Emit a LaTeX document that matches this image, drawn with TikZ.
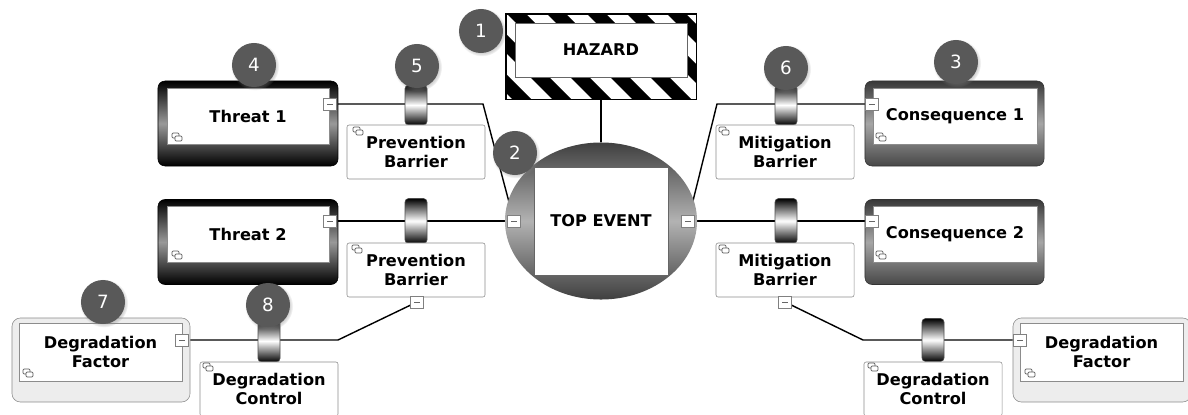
\documentclass[tikz,border=0pt]{standalone}
\usepackage{fontspec}
\setmainfont{DejaVu Sans}
\usetikzlibrary{shapes.geometric,shadows}
\pgfdeclarelayer{bg}
\pgfsetlayers{bg,main}
\newcommand{\mns}{\rule{0.15cm}{0.6pt}}

\begin{document}
\begin{tikzpicture}[
    x=0.025cm, y=-0.025cm,
    lbl/.style={font=\fontsize{11.5}{13.5}\selectfont\bfseries, align=center},
    boxframe/.style={rectangle, rounded corners=5pt, inner sep=0pt, minimum width=4.5cm, minimum height=2.125cm},
    threatfr/.style={boxframe, draw=black, top color=black, bottom color=black, middle color=black!40},
    consfr/.style={boxframe, draw=black!80, top color=black!78, bottom color=black!72, middle color=black!35, minimum width=4.475cm},
    dffr/.style={boxframe, rounded corners=6pt, draw=black!45, fill=black!7, minimum width=4.45cm, minimum height=2.1cm},
    inbox/.style={lbl, rectangle, draw=black!45, fill=white, inner sep=0pt, minimum width=4.05cm, minimum height=1.4cm},
    barrier/.style={lbl, rectangle, rounded corners=1.5pt, draw=black!45, fill=white, inner sep=0pt, minimum width=3.45cm, minimum height=1.35cm},
    cyl/.style={rectangle, rounded corners=2.5pt, draw=black!70, top color=black, bottom color=black, middle color=white, minimum width=0.55cm, inner sep=0pt},
    badge/.style={circle, fill=black!65, text=white, minimum size=1.1cm, inner sep=0pt, font=\fontsize{13}{13}\selectfont,
        circular drop shadow={shadow xshift=0.6pt, shadow yshift=-0.8pt, opacity=0.35}},
    minusbox/.style={rectangle, draw=black!50, fill=white, minimum width=0.33cm, minimum height=0.3cm, inner sep=0pt, text=black!60},
    link/.style={line width=1pt, black},
    pics/docicon/.style={code={
        \draw[black!65, fill=white, rounded corners=0.8pt, line width=0.5pt] (-5,-4) rectangle (2,1);
        \draw[black!65, fill=white, rounded corners=0.8pt, line width=0.5pt] (-2,-1) rectangle (5,4);
    }}
]
\useasboundingbox (0,0) rectangle (1188,414);

% hazard
\node[rectangle, draw=black, fill=white, minimum width=4.75cm, minimum height=2.125cm, inner sep=0pt] (hazfr) at (601,56.5) {};
\begin{scope}
  \clip (hazfr.north west) rectangle (hazfr.south east);
  \foreach \s in {347,387,...,707}
    \fill[black] (\s,14) -- (\s+19,14) -- (\s+104,99) -- (\s+85,99) -- cycle;
\end{scope}
\draw[line width=0.8pt] (hazfr.north west) rectangle (hazfr.south east);
\node[inbox, minimum width=4.3cm, minimum height=1.35cm, draw=black!60] (hazard) at (601,50) {HAZARD};

% top event
\node[ellipse, minimum width=4.8cm, minimum height=3.925cm, inner sep=0pt,
      top color=black!75, bottom color=black!75, middle color=black!30] (teback) at (601,221) {};
\node[inbox, minimum width=3.35cm, minimum height=2.7cm, draw=black!60] (te) at (601,221) {TOP EVENT};
\node[minusbox] (tel) at (514,221) {\mns};
\node[minusbox] (ter) at (688,221) {\mns};

% threats
\node[threatfr] (t1fr) at (248,123.5) {};
\node[inbox] (t1) at (248,116) {Threat 1};
\node[minusbox] (t1m) at (330,104) {\mns};
\node[threatfr] (t2fr) at (248,242) {};
\node[inbox] (t2) at (248,234.5) {Threat 2};
\node[minusbox] (t2m) at (330,221) {\mns};

% consequences
\node[consfr] (c1fr) at (954.5,123.5) {};
\node[inbox, minimum width=4.1cm] (c1) at (955,116) {Consequence 1};
\node[minusbox] (c1m) at (872,104) {\mns};
\node[consfr] (c2fr) at (954.5,242) {};
\node[inbox, minimum width=4.1cm] (c2) at (955,234.5) {Consequence 2};
\node[minusbox] (c2m) at (872,221) {\mns};

% barriers
\node[cyl, minimum height=1cm] (pb1c) at (416,105) {};
\node[cyl, minimum height=1.125cm] (pb2c) at (416,221) {};
\node[cyl, minimum height=1cm] (mb1c) at (786,105) {};
\node[cyl, minimum height=1.125cm] (mb2c) at (786,221) {};
\node[barrier] (pb1) at (416,152) {Prevention\\Barrier};
\node[barrier] (pb2) at (416,270) {Prevention\\Barrier};
\node[barrier] (mb1) at (785,152) {Mitigation\\Barrier};
\node[barrier] (mb2) at (785,270) {Mitigation\\Barrier};
\node[minusbox] (pb2m) at (417,302) {\mns};
\node[minusbox] (mb2m) at (785,302) {\mns};

% degradation
\node[dffr] (df1fr) at (101,360) {};
\node[inbox, minimum width=4.075cm, minimum height=1.45cm] (df1) at (100.5,352) {Degradation\\Factor};
\node[minusbox] (df1m) at (182,340) {\mns};
\node[dffr] (df2fr) at (1102,360) {};
\node[inbox, minimum width=4.075cm, minimum height=1.45cm] (df2) at (1101.5,352) {Degradation\\Factor};
\node[minusbox] (df2m) at (1020,340) {\mns};
\node[cyl, minimum height=1.05cm] (dc1c) at (269,341) {};
\node[cyl, minimum height=1.075cm] (dc2c) at (933,340) {};
\node[barrier] (dc1) at (269,389) {Degradation\\Control};
\node[barrier] (dc2) at (933,389) {Degradation\\Control};

% icons
\foreach \p in {(177,137),(177,255),(881,137),(881,255),(28,373),(1030,373),
                (358,131),(357,249),(724,131),(724,249),(208,367),(873,367)}
  \pic at \p {docicon};

% connectors
\coordinate (k1) at (483,104);
\coordinate (k2) at (717,104);
\coordinate (k3) at (338,340);
\coordinate (k4) at (863,340);
\begin{pgfonlayer}{bg}
\draw[link] (hazfr) -- (teback);
\draw[link] (t1m) -- (k1) -- (tel);
\draw[link] (t2m) -- (tel);
\draw[link] (ter) -- (k2) -- (c1m);
\draw[link] (ter) -- (c2m);
\draw[link] (pb2m) -- (k3) -- (df1m);
\draw[link] (mb2m) -- (k4) -- (df2m);
\end{pgfonlayer}

% numbers
\node[badge] (b1) at (481,31) {1};
\node[badge] (b2) at (515,153) {2};
\node[badge] (b3) at (956,62) {3};
\node[badge] (b4) at (254,65) {4};
\node[badge] (b5) at (417,66) {5};
\node[badge] (b6) at (786,68) {6};
\node[badge] (b7) at (103,302) {7};
\node[badge] (b8) at (268,305) {8};
\end{tikzpicture}
\end{document}
